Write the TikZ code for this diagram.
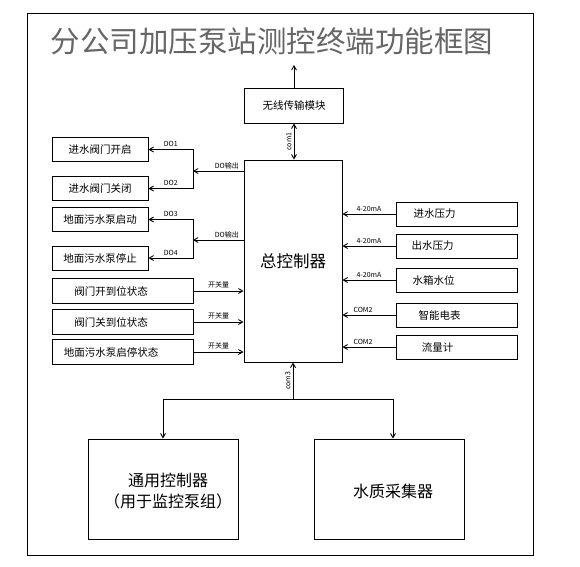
\documentclass[tikz,border=0pt]{standalone}
\usepackage{fontspec}
\setmainfont{Noto Sans CJK SC}
\usepackage{tikz}
\usetikzlibrary{arrows}
\tikzset{
	unit box/.style={draw,inner sep=0pt,font=\fontsize{10.5}{12}\selectfont},
	out box/.style={unit box,minimum width=96pt,minimum height=24pt},
	state box/.style={unit box,minimum width=141pt,minimum height=25pt},
	meter box/.style={unit box,minimum width=121pt,minimum height=24pt},
	big box/.style={unit box,minimum width=150pt,minimum height=100pt},
	box text/.style={font=\fontsize{10.5}{12}\selectfont,inner sep=0pt},
	big text/.style={font=\fontsize{16}{21}\selectfont,align=center,inner sep=0pt},
	tag/.style={font=\fontsize{7}{8}\selectfont,inner sep=2pt}
}

\begin{document}
\begin{tikzpicture}[x=1pt,y=-1pt,->,>=angle 60,line width=0.9pt]
  \useasboundingbox (0,0) rectangle (580,566);
  \draw[-] (27,13) rectangle (533,555);
  \node [font=\fontsize{29.5}{32}\selectfont,text=black!60,inner sep=0pt] (title) at (272,41) {分公司加压泵站测控终端功能框图};

  % wireless module and main controller
  \node [unit box,minimum width=99pt,minimum height=35pt] (wless) at (294,105.5) {无线传输模块};
  \node [unit box,minimum width=98pt,minimum height=202pt,font=\fontsize{16.5}{18}\selectfont] (ctrl) at (293,261) {总控制器};
  \coordinate (antenna) at (294,65);
  \draw (wless.north) -- (antenna);
  \draw[<->] (wless.south) -- node[tag,rotate=90,anchor=south] {com1} (wless.south |- ctrl.north);

  % outputs
  \node [out box] (open) at (100,149.5) {进水阀门开启};
  \node [out box] (close) at (100,188.5) {进水阀门关闭};
  \node [out box] (pumpon) at (100,219.5) {地面污水泵启动};
  \node [out box] (pumpoff) at (100,258) {地面污水泵停止};
  \coordinate (do12) at (193,171);
  \coordinate (do34) at (193,240);
  \draw (ctrl.west |- do12) -- node[tag,above,pos=0.33] {DO输出} (do12);
  \draw (ctrl.west |- do34) -- node[tag,above,pos=0.33] {DO输出} (do34);
  \draw (do12) |- node[tag,above,pos=0.75] {DO1} (open.east);
  \draw (do12) |- node[tag,above,pos=0.75] {DO2} (close.east);
  \draw (do34) |- node[tag,above,pos=0.75] {DO3} (pumpon.east);
  \draw (do34) |- node[tag,above,pos=0.75] {DO4} (pumpoff.east);

  % switch states
  \node [state box] (vopen) at (122.5,291) {};
  \node [state box] (vclose) at (122.5,322) {};
  \node [state box] (pstate) at (122.5,352) {};
  \node [box text] at ([xshift=-11.5pt]vopen.center) {阀门开到位状态};
  \node [box text] at ([xshift=-11.5pt]vclose.center) {阀门关到位状态};
  \node [box text] at ([xshift=-11.5pt]pstate.center) {地面污水泵启停状态};
  \foreach \s in {vopen,vclose,pstate}
    \draw (\s.east) -- node[tag,above] {开关量} (ctrl.west |- \s.east);

  % meters
  \node [meter box] (pin) at (456.5,214) {};
  \node [meter box] (pout) at (456.5,246) {};
  \node [meter box] (level) at (456.5,280) {};
  \node [meter box] (emeter) at (456.5,315) {};
  \node [meter box] (flow) at (456.5,347) {};
  \node [box text] at ([xshift=-22pt]pin.center) {进水压力};
  \node [box text] at ([xshift=-24pt]pout.center) {出水压力};
  \node [box text] at ([xshift=-23pt]level.center) {水箱水位};
  \node [box text] at ([xshift=-17pt]emeter.center) {智能电表};
  \node [box text] at ([xshift=-19pt]flow.center) {流量计};
  \foreach \m in {pin,pout,level}
    \draw (\m.west) -- node[tag,above] {4-20mA} (ctrl.east |- \m.west);
  \foreach \m in {emeter,flow}
    \draw (\m.west) -- node[tag,above,xshift=-6pt] {COM2} (ctrl.east |- \m.west);

  % lower units
  \node [big box] (gen) at (163,489) {};
  \node [big box] (quality) at (389,489) {};
  \node [big text] at ([xshift=5pt,yshift=-2pt]gen.center) {通用控制器\\（用于监控泵组）};
  \node [big text] at ([xshift=4pt,yshift=-2pt]quality.center) {水质采集器};
  \coordinate (bus) at (293,399);
  \draw (bus) -- node[tag,rotate=90,anchor=south] {com3} (ctrl.south);
  \draw (bus) -| (gen.north);
  \draw (bus) -| ([xshift=4pt]quality.north);
\end{tikzpicture}
\end{document}
